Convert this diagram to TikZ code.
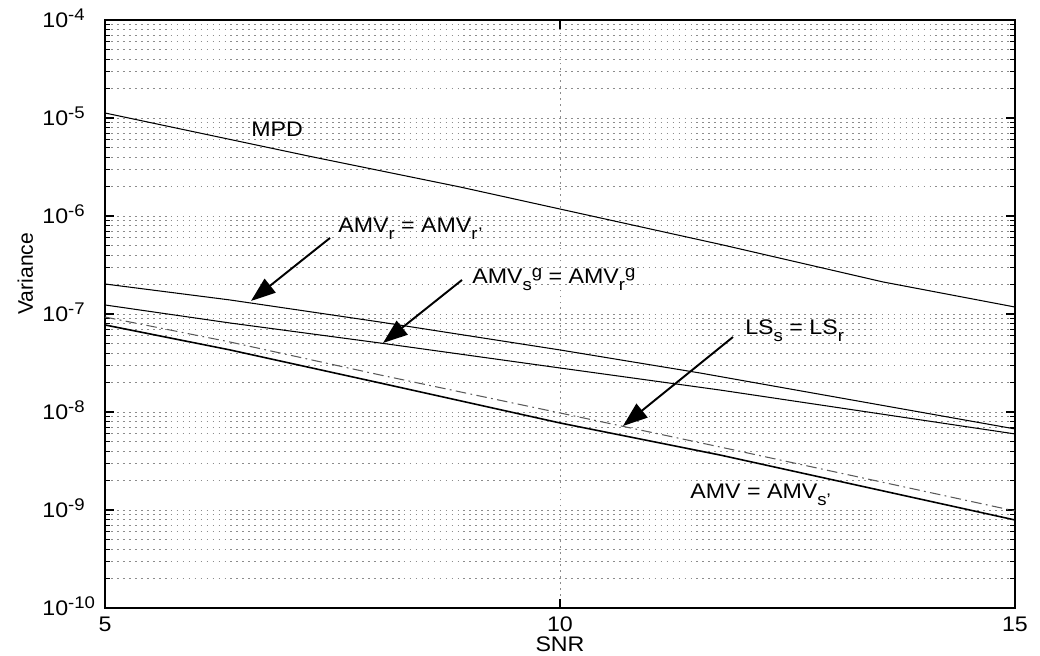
\documentclass[tikz,border=0pt]{standalone}
\usepackage{fontspec}
\setmainfont{Liberation Sans}[FakeStretch=1.1]
\newfontfamily\plainsans{Liberation Sans}
\usetikzlibrary{arrows.meta}

\newcommand{\lo}[1]{\raisebox{-3.8pt}{\fontsize{9.6pt}{9.6pt}\selectfont #1}}
\newcommand{\hi}[1]{\raisebox{3.8pt}{\fontsize{9.6pt}{9.6pt}\selectfont #1}}

\tikzset{
  gridline/.style={black!45, line width=0.5pt, dash pattern=on 1pt off 2.4pt},
  curve/.style={line width=0.6pt},
  dashcurve/.style={black!65, line width=0.6pt, dash pattern=on 6pt off 2.5pt on 1pt off 2.5pt},
  pointer/.style={line width=1.1pt, -{Triangle[length=14pt,width=10pt]}},
  lbl/.style={anchor=base west, inner sep=0pt},
}

\begin{document}
\fontsize{12pt}{14pt}\selectfont
\begin{tikzpicture}[x=1.82cm, y=1.96cm, shift={(-5,10)}]
\useasboundingbox (3.846,-10.480) rectangle (15.275,-3.796);

% Grid (log decades)
\foreach \e in {-10,...,-5}
  \foreach \m in {2,...,9}
    \draw[gridline] (5,{\e+log10(\m)}) -- (15,{\e+log10(\m)});
\foreach \e in {-9,...,-5}
  \draw[gridline] (5,\e) -- (15,\e);
\draw[gridline] (10,-10) -- (10,-4);

% Axes box and ticks
\draw[line width=0.8pt] (5,-10) rectangle (15,-4);
\foreach \e in {-10,...,-4} {
  \draw[line width=0.6pt] (5,\e) -- ++(0.099,0);
  \draw[line width=0.6pt] (15,\e) -- ++(-0.099,0);
}
\foreach \e in {-10,...,-5}
  \foreach \m in {2,...,9} {
    \draw[line width=0.5pt] (5,{\e+log10(\m)}) -- ++(0.055,0);
    \draw[line width=0.5pt] (15,{\e+log10(\m)}) -- ++(-0.055,0);
  }
\draw[line width=0.6pt] (10,-10) -- ++(0,0.092);
\draw[line width=0.6pt] (10,-4) -- ++(0,-0.092);

% Tick labels
\foreach \e in {-10,...,-4}
  \node[lbl] (ylab\e) at (4.308,\e-0.075) {10\hi{\e}};
\foreach \s in {5,10,15}
  \node[anchor=north, inner sep=0pt] (xlab\s) at (\s,-10.085) {\s};
\node[anchor=north, inner sep=0pt] (xtitle) at (10,-10.288) {SNR};
\node[rotate=90, inner sep=0pt, font=\plainsans\fontsize{12pt}{14pt}\selectfont] (ytitle) at (4.125,-6.590) {Variance};

% Curves
\draw[curve] plot coordinates {(5,-4.949) (7.286,-5.398) (8.901,-5.704) (10,-5.929)
  (11.791,-6.296) (13.549,-6.673) (15,-6.929)};
\draw[curve] plot coordinates {(5,-6.694) (6.374,-6.857) (8.022,-7.082) (10,-7.367)
  (11.538,-7.602) (15,-8.173)};
\draw[curve] plot coordinates {(5,-6.908) (6.374,-7.092) (8.022,-7.296) (10,-7.551)
  (11.758,-7.776) (15,-8.224)};
\draw[dashcurve] plot coordinates {(5,-7.031) (6.374,-7.286) (8.022,-7.622) (10,-8.010)
  (11.758,-8.357) (15,-9.010)};
\draw[line width=0.9pt] plot coordinates {(5,-7.112) (6.374,-7.367) (8.022,-7.704) (10,-8.112)
  (11.758,-8.439) (15,-9.102)};

% Curve labels
\node[lbl] (mpd) at (6.604,-5.194) {MPD};
\node[lbl] (amvr) at (7.560,-6.173) {AMV\lo{r} = AMV\lo{r'}};
\node[lbl] (amvg) at (9.033,-6.694) {AMV\lo{s}\hi{g} = AMV\lo{r}\hi{g}};
\node[lbl] (lss) at (12.033,-7.214) {LS\lo{s} = LS\lo{r}};
\node[lbl] (amv) at (11.429,-8.888) {AMV = AMV\lo{s'}};

% Pointers
\coordinate (amvrtail) at (7.473,-6.224);
\coordinate (amvrtip) at (6.604,-6.867);
\coordinate (amvgtail) at (8.923,-6.653);
\coordinate (amvgtip) at (8.055,-7.296);
\coordinate (lsstail) at (11.901,-7.235);
\coordinate (lsstip) at (10.692,-8.143);
\draw[pointer] (amvrtail) -- (amvrtip);
\draw[pointer] (amvgtail) -- (amvgtip);
\draw[pointer] (lsstail) -- (lsstip);
\end{tikzpicture}
\end{document}
